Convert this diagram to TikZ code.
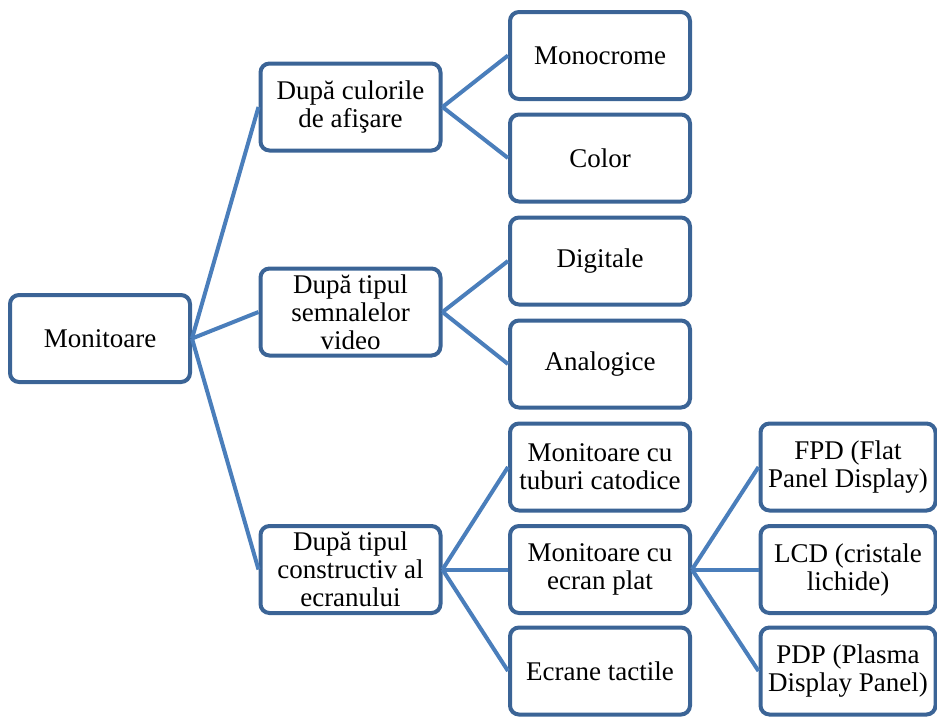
\documentclass[tikz,border=0pt]{standalone}
\usepackage{fontspec}
\setmainfont{Liberation Serif}
\definecolor{bordc}{HTML}{3B6496}
\definecolor{linec}{HTML}{4A7EBB}
\tikzset{
  box/.style={rectangle, rounded corners=9pt, draw=bordc, line width=4pt, fill=white,
    minimum width=180pt, minimum height=87pt, align=center, inner sep=2pt,
    font=\fontsize{27}{28}\selectfont},
  narrowbox/.style={box, minimum width=175pt},
  conn/.style={draw=linec, line width=4pt}
}
\begin{document}
\begin{tikzpicture}[x=1pt,y=-1pt]
\useasboundingbox (0,0) rectangle (937,716);
\node[box] (mon) at (100,338.5) {Monitoare};
\node[box] (cul) at (350.5,107) {După culorile\\de afişare};
\node[box] (sem) at (350.5,312) {După tipul\\semnalelor\\video};
\node[box] (con) at (350.5,569.5) {După tipul\\constructiv al\\ecranului};
\node[box] (mono) at (600,55.5) {Monocrome};
\node[box] (col) at (600,158) {Color};
\node[box] (dig) at (600,261) {Digitale};
\node[box] (ana) at (600,364) {Analogice};
\node[box] (tub) at (600,467) {Monitoare cu\\tuburi catodice};
\node[box] (pla) at (600,569.5) {Monitoare cu\\ecran plat};
\node[box] (tac) at (600,671) {Ecrane tactile};
\node[narrowbox] (fpd) at (848,467) {FPD (Flat\\Panel Display)};
\node[narrowbox] (lcd) at (848,569.5) {LCD (cristale\\lichide)};
\node[narrowbox] (pdp) at (848,671) {PDP (Plasma\\Display Panel)};
\foreach \a/\b in {mon/cul,mon/sem,mon/con,cul/mono,cul/col,sem/dig,sem/ana,con/tub,con/pla,con/tac,pla/fpd,pla/lcd,pla/pdp}
  \draw[conn] (\a.east) -- (\b.west);
\end{tikzpicture}
\end{document}
